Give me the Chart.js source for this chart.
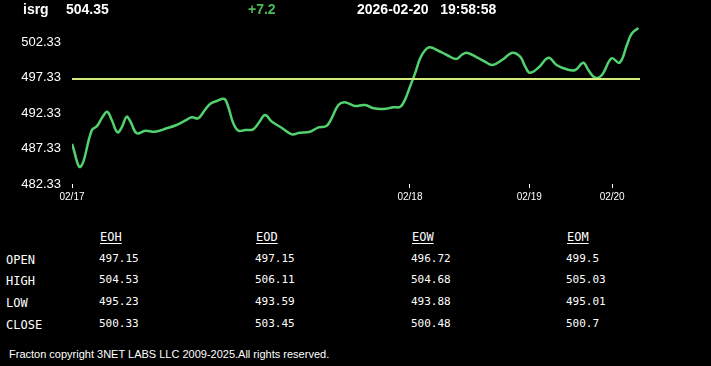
<!DOCTYPE html>
<html>
<head>
<meta charset="utf-8">
<script src="https://cdn.jsdelivr.net/npm/chart.js@4"></script>
<style>
  body { margin: 0; background: #000; width: 711px; height: 366px; overflow: hidden; position: relative; font-family: "Liberation Sans", Arial, sans-serif; color: #fff; }
  #chart { position: absolute; left: 0; top: 0; }
  .hdr { position: absolute; top: 1px; font: bold 14px "Liberation Sans", Arial, sans-serif; white-space: pre; }
  .tbl { position: absolute; font-family: "DejaVu Sans Mono", monospace; white-space: pre; }
  .lbl { font-size: 12px; }
  .val { font-size: 11px; }
  .colh { font-size: 12px; text-decoration: underline; text-underline-offset: 2px; }
  #foot { position: absolute; left: 9px; top: 348px; font-size: 11px; }
</style>
</head>
<body>
<canvas id="chart" width="711" height="215"></canvas>
<div class="hdr" style="left:23px">isrg</div>
<div class="hdr" style="left:66px">504.35</div>
<div class="hdr" style="left:248px;color:#4cbb5a">+7.2</div>
<div class="hdr" style="left:357px">2026-02-20   19:58:58</div>
<div id="table"></div>
<div id="foot">Fracton copyright 3NET LABS LLC 2009-2025.All rights reserved.</div>
<script>
// price series (x = bar index, y = price)
const priceX = [0, 1.5, 3.5, 4.4, 5.4, 6.2, 7.0, 8.0, 8.8, 9.6, 10.3, 11.4, 12.9, 14.6, 16.7, 18.4,
  19.9, 21.1, 22.2, 23.4, 24.3, 25.5, 26.8, 27.5, 28.4, 29.3, 30.5, 31.9, 33.0, 34.0, 35.2, 36.9,
  38.7, 40.1, 41.9, 43.4, 44.8, 45.7, 46.9, 47.9, 48.9, 49.8, 51.6, 53.1, 54.8, 56.6, 57.8, 58.6,
  59.5, 60.4, 61.3, 62.2, 63.0, 64.5, 66.0, 67.6, 68.6, 69.5, 71.3, 73.0, 74.1, 75.9, 77.5, 78.9,
  79.8, 80.6, 82.1, 83.9, 85.3, 87.1, 88.6, 90.0, 90.9, 92.1, 93.3, 95.0, 96.4, 97.7, 98.5, 99.7];
const priceY = [487.98, 484.75, 489.95, 490.5, 491.83, 492.53, 491.36, 489.63, 490.4, 491.83, 491.12, 489.49, 489.85, 489.71, 490.19, 490.66,
  491.26, 491.74, 491.6, 492.77, 493.62, 494.05, 494.33, 493.24, 490.9, 489.85, 489.95, 490.05, 491.12, 492.07, 491.12, 490.27,
  489.34, 489.57, 489.71, 490.33, 490.52, 491.6, 493.48, 493.86, 493.62, 493.34, 493.48, 493.01, 492.91, 493.15, 493.24, 494.19,
  496.06, 497.95, 500.07, 501.24, 501.62, 501.14, 500.54, 499.97, 500.54, 500.86, 500.21, 499.45, 499.13, 499.93, 500.86, 500.30,
  498.89, 498.04, 498.74, 500.16, 499.13, 498.52, 498.42, 499.45, 498.42, 497.33, 497.71, 500.07, 499.45, 501.95, 503.50, 504.35];

const refLevel = 497.15;
const xRange = [0, 100];

const xTickPos = [0, 59.5, 80.5, 95.1];
const xTickLabels = ['02/17', '02/18', '02/19', '02/20'];
const yTicks = [482.33, 487.33, 492.33, 497.33, 502.33];

// summary table
const colNames = ['EOH', 'EOD', 'EOW', 'EOM'];
const rowNames = ['OPEN', 'HIGH', 'LOW', 'CLOSE'];
const eoh = ['497.15', '504.53', '495.23', '500.33'];
const eod = ['497.15', '506.11', '493.59', '503.45'];
const eow = ['496.72', '504.68', '493.88', '500.48'];
const eom = ['499.5', '505.03', '495.01', '500.7'];

// build table
const table = document.getElementById('table');
const colX = [100, 256, 412, 567];
const rowY = [252, 273, 295, 317];
const cols = [eoh, eod, eow, eom];
colNames.forEach((name, i) => {
  const d = document.createElement('div');
  d.className = 'tbl colh';
  d.style.left = colX[i] + 'px';
  d.style.top = '230px';
  d.textContent = name;
  table.appendChild(d);
});
rowNames.forEach((name, r) => {
  const d = document.createElement('div');
  d.className = 'tbl lbl';
  d.style.left = '6px';
  d.style.top = (rowY[r] + 1) + 'px';
  d.textContent = name;
  table.appendChild(d);
  cols.forEach((col, i) => {
    const v = document.createElement('div');
    v.className = 'tbl val';
    v.style.left = (colX[i] - 1) + 'px';
    v.style.top = rowY[r] + 'px';
    v.textContent = col[r];
    table.appendChild(v);
  });
});

const ctx = document.getElementById('chart').getContext('2d');
new Chart(ctx, {
  type: 'line',
  data: {
    datasets: [
      {
        data: xRange.map(x => ({ x: x, y: refLevel })),
        borderColor: '#d4ec7c',
        borderWidth: 2,
        pointRadius: 0,
        tension: 0
      },
      {
        data: priceX.map((x, i) => ({ x: x, y: priceY[i] })),
        borderColor: '#52d26e',
        borderWidth: 2.5,
        pointRadius: 0,
        tension: 0.4
      }
    ]
  },
  options: {
    responsive: false,
    devicePixelRatio: 1,
    animation: false,
    layout: { padding: { left: 0, right: 71, top: 20, bottom: 0 } },
    plugins: { legend: { display: false }, tooltip: { enabled: false } },
    scales: {
      x: {
        type: 'linear',
        min: xRange[0],
        max: xRange[1],
        afterBuildTicks: s => { s.ticks = xTickPos.map(v => ({ value: v })); },
        afterFit: s => { s.height = 31; },
        ticks: {
          autoSkip: false,
          maxRotation: 0,
          color: '#fff',
          padding: 3,
          font: { family: 'Liberation Sans, Arial', size: 10 },
          callback: v => xTickLabels[xTickPos.indexOf(v)]
        },
        grid: { display: true, drawOnChartArea: false, drawTicks: true, tickLength: 4, color: '#fff' },
        border: { display: false }
      },
      y: {
        min: 482.33,
        max: 505.48,
        afterBuildTicks: s => { s.ticks = yTicks.map(v => ({ value: v })); },
        afterFit: s => { s.width = 72; },
        ticks: {
          color: '#fff',
          padding: 11,
          font: { family: 'Liberation Sans, Arial', size: 13 },
          callback: v => v.toFixed(2)
        },
        grid: { display: false, drawTicks: false },
        border: { display: false }
      }
    }
  }
});
</script>
</body>
</html>
